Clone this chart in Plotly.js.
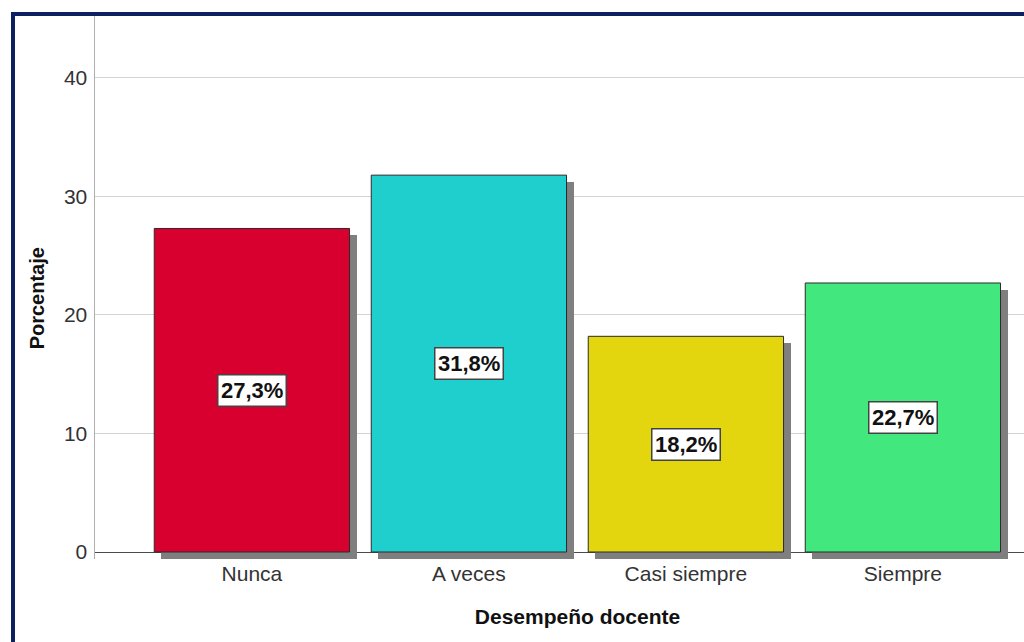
<!DOCTYPE html>
<html><head><meta charset="utf-8">
<script src="https://cdn.plot.ly/plotly-3.0.1.min.js"></script>
<style>
html,body{margin:0;padding:0;background:#fff;overflow:hidden;}
#wrap{position:relative;width:1024px;height:642px;overflow:hidden;}
#chart{position:absolute;left:0;top:0;width:1060px;height:642px;}
#frame{position:absolute;left:11px;top:12px;right:0;bottom:0;border-top:4px solid #0b2161;border-left:4px solid #0b2161;pointer-events:none;}
</style></head>
<body><div id="wrap"><div id="chart"></div><div id="frame"></div></div>
<script>
const categories = ["Nunca", "A veces", "Casi siempre", "Siempre"];
const values = [27.3, 31.8, 18.2, 22.7];
const labels = ["27,3%", "31,8%", "18,2%", "22,7%"];
const colors = ["#d7002e", "#1fcfcd", "#e3d60f", "#42e87e"];
const yTicks = [0, 10, 20, 30, 40];

const xIdx = categories.map((c, i) => i);
const pxPerUnitY = 11.85, pxPerCat = 217;
const shadowDy = 7 / pxPerUnitY, shadowDx = 7 / pxPerCat;

const shadow = {
  type: "bar", x: xIdx, y: values, base: values.map(() => -shadowDy),
  width: 0.9, offset: -0.45 + shadowDx,
  marker: {color: "#7f7f7f", line: {width: 0}},
  hoverinfo: "skip", showlegend: false
};
const bars = {
  type: "bar", x: xIdx, y: values, width: 0.9, offset: -0.45,
  marker: {color: colors, line: {color: "#2a2a2a", width: 1}},
  showlegend: false
};
const annotations = values.map((v, i) => ({
  x: i, y: v / 2, xref: "x", yref: "y", text: "<b>" + labels[i] + "</b>",
  showarrow: false, bgcolor: "#ffffff", bordercolor: "#444444", borderwidth: 1.5, borderpad: 2.5,
  font: {family: "Liberation Sans, Arial, sans-serif", size: 22, color: "#111"}
}));
annotations.push({
  xref: "paper", yref: "paper", x: 0, y: 0.48, xshift: -58, xanchor: "center", yanchor: "middle",
  textangle: -90, showarrow: false, text: "<b>Porcentaje</b>",
  font: {family: "Liberation Sans, Arial, sans-serif", size: 20, color: "#111"}
});

const layout = {
  width: 1060, height: 642,
  margin: {l: 95, r: 0, t: 16, b: 83},
  paper_bgcolor: "#ffffff", plot_bgcolor: "#ffffff",
  barmode: "overlay", bargap: 0,
  font: {family: "Liberation Sans, Arial, sans-serif", color: "#333"},
  xaxis: {
    range: [-0.723, 3.724], tickmode: "array", tickvals: xIdx, ticktext: categories,
    showgrid: false, zeroline: false, showline: false, ticks: "",
    tickfont: {size: 21, color: "#333"},
    title: {text: "<b>Desempeño docente</b>", font: {size: 21, color: "#111"}, standoff: 25}
  },
  yaxis: {
    range: [-shadowDy, 45.23], tickmode: "array", tickvals: yTicks,
    showgrid: true, gridcolor: "#d4d4d4", gridwidth: 1,
    zeroline: true, zerolinecolor: "#4a4a4a", zerolinewidth: 1,
    showline: true, linecolor: "#b0b0b0", linewidth: 1.5, ticks: "",
    tickfont: {size: 21, color: "#333"}, ticklabelstandoff: 2
  },
  annotations: annotations
};
Plotly.newPlot("chart", [shadow, bars], layout, {displayModeBar: false, staticPlot: true});
</script></body></html>
